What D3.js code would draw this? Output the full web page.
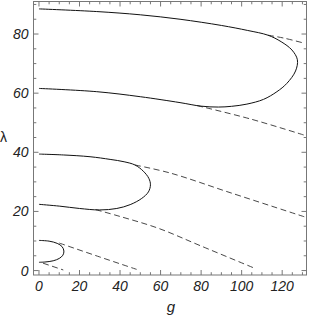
<!DOCTYPE html>
<html>
<head>
<meta charset="utf-8">
<script src="https://cdn.jsdelivr.net/npm/d3@7"></script>
<style>
  body { margin: 0; background: #fff; }
  svg text { font-family: "Liberation Sans", Arial, sans-serif; }
</style>
</head>
<body>
<div id="chart"></div>
<script>
// solid loops (g, lambda): top-left -> tip -> bottom-left
const loop1 = [[0, 10.2], [5, 9.95], [9, 9.2], [11.4, 8.1], [12.3, 6.6], [11.8, 5.2], [10, 4.1], [7, 3.3], [3, 2.9], [0, 2.8]];
const loop2 = [[0, 39.4], [12, 39.1], [25.2, 38.5], [35.1, 37.6], [42, 36.8], [47.4, 35.7], [51.5, 33.6], [54.2, 31.2], [55.0, 29.0], [54, 26.6], [50.7, 24.4], [45, 22.3], [38.4, 21.0], [30, 20.5], [20, 21.0], [10, 21.8], [0, 22.4]];
const loop3 = [[0, 88.5], [28.5, 87.6], [50, 86.5], [69.6, 85.0], [90, 82.9], [103, 81.2], [113, 79.6], [119.5, 77.4], [124.8, 74.6], [127.5, 71.3], [126.6, 67.5], [122.3, 63.3], [117.4, 60.5], [110.8, 57.9], [102.6, 56.3], [95, 55.55], [88.5, 55.3], [80, 55.6], [69.6, 56.8], [50, 58.8], [28.5, 60.5], [0, 61.6]];

// dashed continuations
const dash1a = [[10, 9.3], [30, 4.6], [48.2, 0.4]];
const dash1b = [[2, 2.5], [12, 0.2]];
const dash2a = [[47.4, 35.7], [64.7, 33.0], [95, 26.2], [130.9, 18.2]];
const dash2b = [[28, 20.6], [40, 18.3], [58.9, 14.3], [80, 8.3], [106.7, 0.7]];
const dash3a = [[113, 79.6], [121, 78.6], [130.9, 76.9]];
const dash3b = [[78, 55.8], [104.2, 51.3], [130.9, 45.8]];

const xTicks = [0, 20, 40, 60, 80, 100, 120];
const yTicks = [0, 20, 40, 60, 80];

const width = 309, height = 317;
const plotL = 33.5, plotR = 306.5, plotT = 1.5, plotB = 275;

const x = d3.scaleLinear().domain([-2.7, 132]).range([plotL, plotR]);
const y = d3.scaleLinear().domain([-1.5, 91]).range([plotB, plotT]);

const svg = d3.select('#chart').append('svg')
  .attr('width', width)
  .attr('height', height);

// frame
svg.append('rect')
  .attr('x', plotL).attr('y', plotT)
  .attr('width', plotR - plotL).attr('height', plotB - plotT)
  .attr('fill', 'none').attr('stroke', '#777').attr('stroke-width', 1);

const xMinor = d3.range(0, 131, 5).filter(v => v % 20 !== 0);
const yMinor = d3.range(0, 91, 5).filter(v => v % 20 !== 0);
const tickG = svg.append('g').attr('stroke', '#777').attr('stroke-width', 1);

function xTick(v, len) {
  tickG.append('line').attr('x1', x(v)).attr('x2', x(v)).attr('y1', plotB).attr('y2', plotB - len);
  tickG.append('line').attr('x1', x(v)).attr('x2', x(v)).attr('y1', plotT).attr('y2', plotT + len);
}
function yTick(v, len) {
  tickG.append('line').attr('y1', y(v)).attr('y2', y(v)).attr('x1', plotL).attr('x2', plotL + len);
  tickG.append('line').attr('y1', y(v)).attr('y2', y(v)).attr('x1', plotR).attr('x2', plotR - len);
}
xTicks.forEach(v => xTick(v, 5));
xMinor.forEach(v => xTick(v, 2.8));
yTicks.forEach(v => yTick(v, 5));
yMinor.forEach(v => yTick(v, 2.8));

// tick labels
svg.append('g').selectAll('text')
  .data(xTicks)
  .enter()
  .append('text')
  .attr('x', d => x(d))
  .attr('y', 291)
  .attr('text-anchor', 'middle')
  .attr('font-size', 14)
  .attr('font-style', 'italic')
  .attr('fill', '#222')
  .text(d => d);

svg.append('g').selectAll('text')
  .data(yTicks)
  .enter()
  .append('text')
  .attr('x', plotL - 5)
  .attr('y', d => y(d) + 5)
  .attr('text-anchor', 'end')
  .attr('font-size', 14)
  .attr('font-style', 'italic')
  .attr('fill', '#222')
  .text(d => d);

// axis titles
svg.append('text')
  .attr('x', 171).attr('y', 312)
  .attr('text-anchor', 'middle')
  .attr('font-size', 15)
  .attr('font-style', 'italic')
  .attr('fill', '#222')
  .text('g');

svg.append('text')
  .attr('x', 0).attr('y', 142)
  .attr('font-size', 14)
  .attr('font-family', '"DejaVu Serif", serif')
  .attr('fill', '#222')
  .text('λ');

const line = d3.line()
  .x(d => x(d[0]))
  .y(d => y(d[1]))
  .curve(d3.curveCatmullRom.alpha(0.5));

[dash1a, dash1b, dash2a, dash2b, dash3a, dash3b].forEach(pts => {
  svg.append('path')
    .attr('d', line(pts))
    .attr('fill', 'none')
    .attr('stroke', '#333')
    .attr('stroke-width', 0.9)
    .attr('stroke-dasharray', '6,3.5');
});

[loop1, loop2, loop3].forEach(pts => {
  svg.append('path')
    .attr('d', line(pts))
    .attr('fill', 'none')
    .attr('stroke', '#111')
    .attr('stroke-width', 1);
});
</script>
</body>
</html>
